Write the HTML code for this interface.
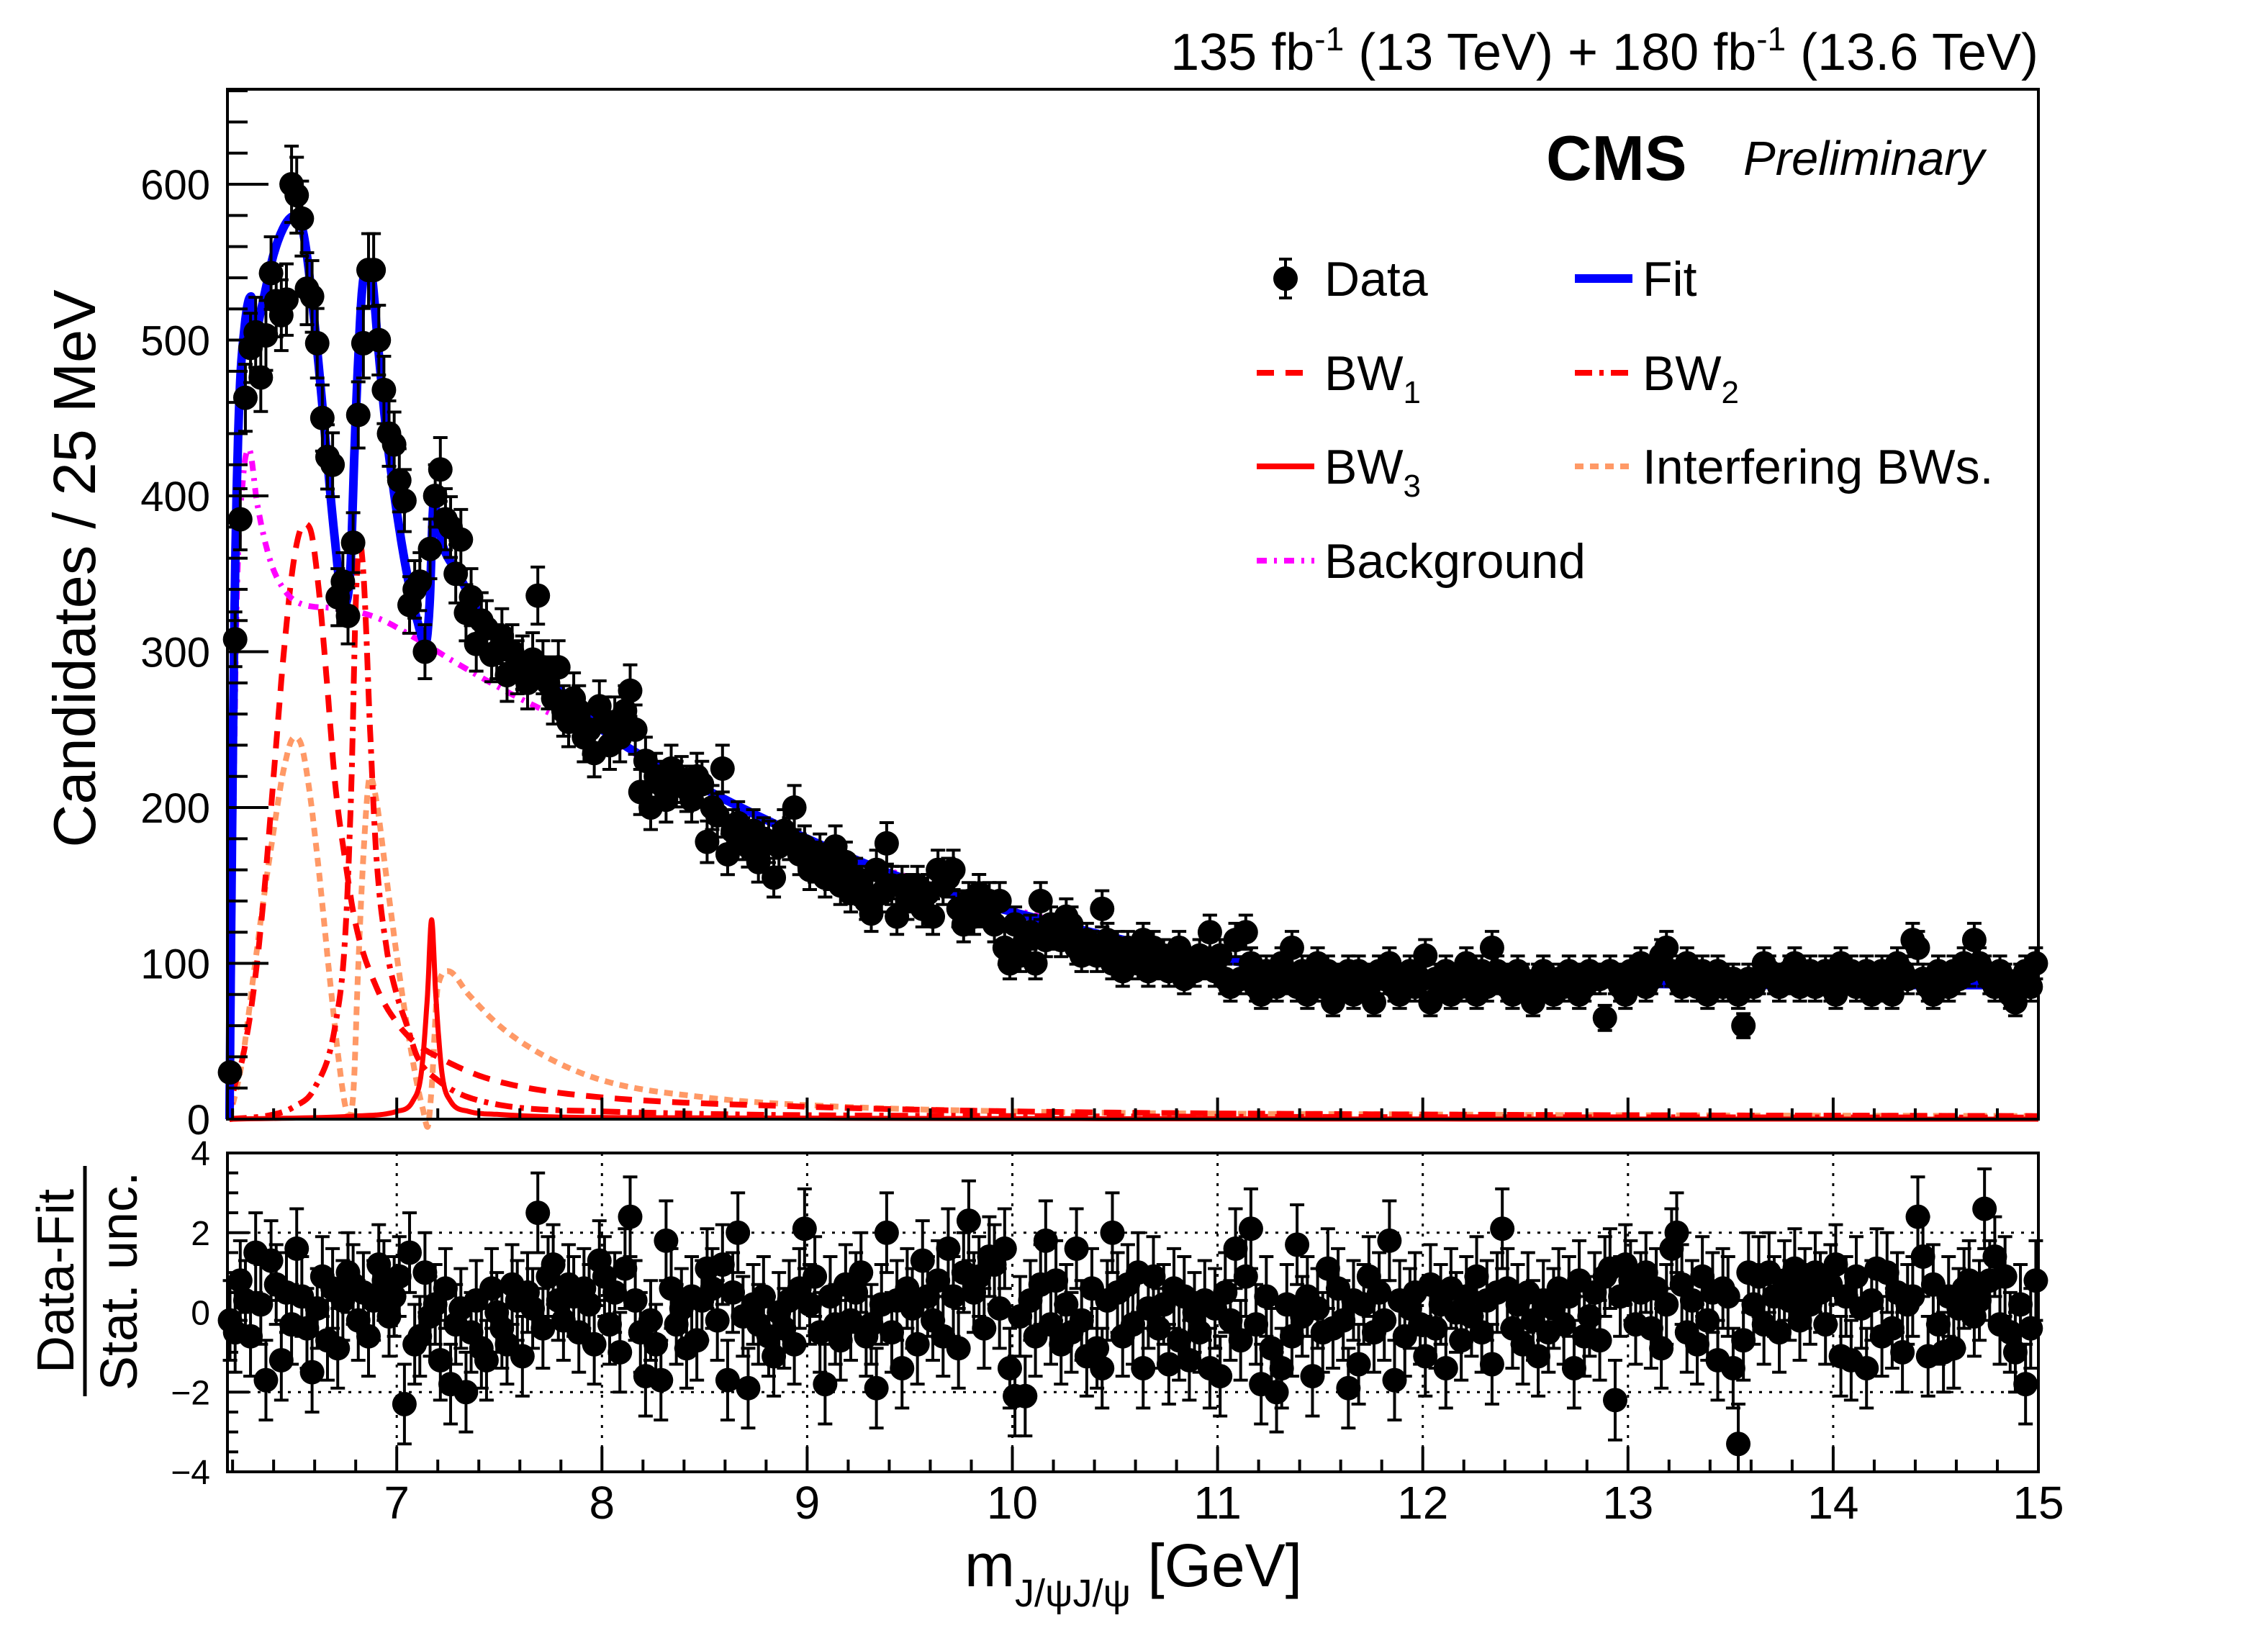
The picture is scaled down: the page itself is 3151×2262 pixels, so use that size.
<!DOCTYPE html>
<html><head><meta charset="utf-8"><title>CMS J/psi J/psi mass spectrum</title>
<style>
html,body{margin:0;padding:0;background:#fff;}
svg{display:block;font-family:"Liberation Sans",Arial,sans-serif;}
</style></head>
<body>
<svg id="chart" xmlns="http://www.w3.org/2000/svg" width="3151" height="2262" viewBox="0 0 3151 2262">
<rect x="0" y="0" width="3151" height="2262" fill="#fff"/>
<g id="main-curves"></g>
<g id="main-data"></g>
<g id="pull-grid"></g>
<g id="pull-data"></g>
<g id="axes"></g>
<rect x="316" y="124" width="2516" height="1431" fill="none" stroke="#000" stroke-width="4"/>
<rect x="316" y="1602" width="2516" height="443" fill="none" stroke="#000" stroke-width="4"/>

<text x="2832" y="97" font-size="72" text-anchor="end">135 fb<tspan dy="-27" font-size="46">-1</tspan><tspan dy="27"> (13 TeV) + 180 fb</tspan><tspan dy="-27" font-size="46">-1</tspan><tspan dy="27"> (13.6 TeV)</tspan></text>
<text x="2148" y="250" font-size="88" font-weight="bold">CMS</text>
<text x="2422" y="243" font-size="67" font-style="italic">Preliminary</text>

<g font-size="68">
 <g>
  <line x1="1786" y1="360" x2="1786" y2="414" stroke="#000" stroke-width="4"/>
  <line x1="1777" y1="360" x2="1795" y2="360" stroke="#000" stroke-width="4"/>
  <line x1="1777" y1="414" x2="1795" y2="414" stroke="#000" stroke-width="4"/>
  <circle cx="1786" cy="387" r="17" fill="#000"/>
  <text x="1840" y="411">Data</text>
 </g>
 <g>
  <line x1="2188" y1="387" x2="2268" y2="387" stroke="#0000ff" stroke-width="12"/>
  <text x="2282" y="411">Fit</text>
 </g>
 <g>
  <line x1="1746" y1="518" x2="1826" y2="518" stroke="#ff0000" stroke-width="8" stroke-dasharray="24,16"/>
  <text x="1840" y="542">BW<tspan dy="18" font-size="44">1</tspan></text>
 </g>
 <g>
  <line x1="2188" y1="518" x2="2268" y2="518" stroke="#ff0000" stroke-width="8" stroke-dasharray="24,10,6,10"/>
  <text x="2282" y="542">BW<tspan dy="18" font-size="44">2</tspan></text>
 </g>
 <g>
  <line x1="1746" y1="648" x2="1826" y2="648" stroke="#ff0000" stroke-width="8"/>
  <text x="1840" y="672">BW<tspan dy="18" font-size="44">3</tspan></text>
 </g>
 <g>
  <line x1="2188" y1="648" x2="2268" y2="648" stroke="#ff9966" stroke-width="8" stroke-dasharray="12,9"/>
  <text x="2282" y="672">Interfering BWs.</text>
 </g>
 <g>
  <line x1="1746" y1="779" x2="1826" y2="779" stroke="#ff00ff" stroke-width="8" stroke-dasharray="14,10,4,10"/>
  <text x="1840" y="803">Background</text>
 </g>
</g>

<text transform="translate(132,790) rotate(-90)" font-size="83" text-anchor="middle">Candidates / 25 MeV</text>
<g transform="translate(118,1780) rotate(-90)" font-size="72" text-anchor="middle">
 <text x="0" y="-16">Data-Fit</text>
 <line x1="-160" y1="0" x2="160" y2="0" stroke="#000" stroke-width="5"/>
 <text x="0" y="72">Stat. unc.</text>
</g>
<text x="1340" y="2204" font-size="84">m<tspan dy="28" font-size="54">J/ψJ/ψ</tspan><tspan dy="-28"> [GeV]</tspan></text>
</svg>
<script>
// ---- data ----
const binStart = 6.1875;
const binWidth = 0.025;
const counts = [
30,308,385,463,495,505,476,503,543,525,
516,526,600,593,578,533,528,498,450,425,
420,335,345,323,370,452,498,545,545,500,
468,440,433,410,397,330,340,345,300,366,
400,417,385,380,350,372,325,335,305,320,
315,298,300,310,285,300,290,293,280,295,
336,290,280,270,290,262,255,270,262,245,
250,235,265,255,240,255,245,262,275,250,
210,230,200,220,215,205,225,215,218,212,
205,220,215,178,200,195,225,170,185,190,
180,175,185,165,180,178,155,175,185,180,
200,170,175,160,165,170,155,160,175,150,
165,145,155,150,140,132,160,145,177,150,
130,150,140,145,150,135,145,130,160,150,
155,160,135,125,140,130,145,135,140,125,
140,110,100,125,105,115,120,100,140,115,
125,120,115,130,125,110,105,115,110,105,
135,115,100,110,95,110,105,100,115,95,
110,100,105,95,100,110,90,100,95,105,
100,120,95,105,90,85,115,90,120,100,
85,80,95,90,85,100,90,110,85,95,
80,90,100,85,95,75,90,85,95,80,
95,90,85,75,95,90,100,85,80,90,
95,85,90,105,75,90,85,95,80,90,
85,100,90,80,95,85,110,95,90,85,
80,95,90,85,75,90,95,85,80,90,
85,95,90,80,85,95,90,90,65,95,
90,85,80,95,90,100,85,90,95,105,
110,95,90,85,100,90,85,95,80,90,
95,85,90,90,80,60,90,85,90,100,
95,90,85,90,95,100,85,90,95,85,
90,95,85,80,100,90,95,85,90,95,
80,85,95,90,80,100,95,90,115,110,
90,85,80,95,90,85,95,90,100,95,
115,100,95,90,85,95,90,80,75,90,
95,85,100];
const pulls = [
-0.2,-0.5,0.8,0.3,-0.6,1.5,0.2,-1.7,1.3,0.7,
-1.2,0.5,-0.3,1.6,0.4,-0.4,-1.5,0.1,0.9,-0.7,
0.6,-0.9,0.3,1.0,0.7,-0.2,0.5,-0.6,0.3,1.2,
0.8,-0.1,0.4,0.9,-2.3,1.5,-0.8,-0.6,1.0,-0.1,
0.2,-1.2,0.6,-1.8,-0.3,0.1,-2.0,-0.5,0.3,-0.9,
-1.2,0.6,0.0,-0.4,-0.8,0.7,0.3,-1.1,0.5,0.1,
2.5,-0.4,0.9,1.2,0.3,-0.2,0.7,0.4,-0.5,0.6,
0.2,-0.8,1.3,0.9,-0.3,0.5,-1.0,1.1,2.4,0.3,
-0.5,-1.6,-0.2,-0.8,-1.7,1.8,0.6,-0.3,0.1,-0.9,
0.4,-0.7,0.3,1.1,0.6,-0.2,1.2,-1.7,0.5,2.0,
-0.1,-1.9,0.2,-0.3,0.4,-0.6,-1.1,0.0,-0.4,0.3,
-0.8,0.6,2.1,0.2,0.9,-0.5,-1.8,0.4,-0.3,-0.7,
0.7,-0.2,0.5,1.0,-0.6,-0.3,-1.9,0.2,2.0,-0.5,
0.3,-1.4,0.6,0.1,-0.8,1.3,0.4,-0.2,0.8,-0.6,
1.6,0.4,-0.9,1.0,2.3,0.5,0.9,-0.4,1.4,1.2,
0.1,1.6,-1.4,-2.1,-0.1,-2.1,0.3,-0.6,0.7,1.8,
-0.3,0.8,-0.8,0.2,-0.5,1.6,-0.2,-1.1,0.6,-0.9,
-1.4,0.3,2.0,0.5,-0.6,0.7,-0.3,1.0,-1.4,0.1,
0.9,-0.4,0.2,-1.3,0.6,-0.7,0.4,-1.2,0.0,-0.5,
0.3,-1.4,0.1,-1.6,0.5,-0.2,1.6,-0.7,0.9,2.1,
-0.3,-1.8,0.4,-0.9,-2.0,-1.4,0.2,-0.6,1.7,-0.1,
0.4,-1.6,0.1,-0.5,1.1,-0.4,0.6,-0.2,-1.9,0.3,
-1.3,0.2,0.9,-0.5,0.5,-0.2,1.8,-1.7,0.3,-0.6,
0.1,0.5,-0.3,-1.1,0.7,-0.4,0.2,-1.4,0.6,0.0,
-0.7,0.4,-0.1,0.9,-0.5,0.3,-1.3,0.5,2.1,0.6,
-0.4,0.2,-0.8,0.5,-0.2,-1.1,0.3,-0.5,0.1,0.6,
-0.3,0.4,-1.4,0.8,-0.6,-0.1,0.5,-0.7,0.9,1.1,
-2.2,0.4,1.2,0.8,-0.3,0.5,1.0,-0.4,0.6,-0.9,
0.2,1.6,2.0,0.7,-0.5,0.3,-0.8,0.9,-0.2,0.5,
-1.2,0.6,0.4,-1.4,-3.3,-0.7,1.0,0.2,0.9,-0.3,
1.0,0.4,-0.5,0.8,0.3,1.1,-0.2,0.6,0.2,1.0,
0.5,-0.3,0.7,1.2,-1.1,0.4,-1.2,0.9,0.1,-1.4,
0.3,1.1,-0.6,1.0,-0.4,0.5,-1.0,0.2,0.4,2.4,
1.4,-1.1,0.7,-0.3,-1.0,0.4,-0.9,0.1,0.6,0.8,
-0.1,0.3,2.6,0.8,1.4,-0.3,0.9,-0.5,-1.0,0.2,
-1.8,-0.4,0.8];
// curve knots (mass in GeV, candidates)
const fitMass = [6.185,6.195,6.21,6.23,6.26,6.29,6.31,6.34,6.40,6.46,6.51,6.55,6.60,6.65,6.70,6.74,6.77,6.80,6.83,6.86,6.88,6.91,6.95,7.00,7.05,7.10,7.14,7.16,7.18,7.22,7.3,7.4,7.6,7.8,8,8.5,9,9.5,10,11,12,13,14,15];
const fitVal = [0,150,330,450,510,528,505,520,555,575,580,565,510,440,370,330,345,450,530,548,540,495,440,390,350,320,305,330,395,370,350,325,295,275,250,212,180,153,133,103,90,87,86,86];
const bgMass = [6.185,6.20,6.22,6.25,6.28,6.32,6.38,6.45,6.55,6.7,6.9,7.1,7.3,7.6,8,8.5,9,9.5,10,10.5,11,11.5,12,13,14,15];
const bgVal = [0,150,330,410,430,395,360,340,330,328,322,308,292,270,245,212,180,155,135,117,103,95,90,87,86,85];
const bw1Mass = [6.185,6.2,6.25,6.3,6.35,6.4,6.45,6.5,6.55,6.58,6.62,6.66,6.7,6.75,6.8,6.9,7.0,7.1,7.2,7.4,7.6,8,9,10,12,15];
const bw1Val = [0,15,40,80,140,220,300,360,382,378,340,280,215,165,125,85,62,48,40,28,21,14,8,5,3,2];
const bw2Mass = [6.185,6.4,6.5,6.6,6.7,6.75,6.78,6.8,6.82,6.84,6.87,6.9,6.95,7.0,7.05,7.1,7.2,7.4,8,10,15];
const bw2Val = [0,3,8,20,60,120,220,330,370,345,250,170,110,80,60,40,25,12,5,2,1];
const bw3Mass = [6.185,6.8,7.0,7.08,7.12,7.15,7.17,7.19,7.22,7.26,7.35,7.5,8,15];
const bw3Val = [0,2,5,12,30,80,128,80,30,12,5,3,1,0];
const intMass = [6.185,6.25,6.3,6.35,6.4,6.45,6.5,6.53,6.57,6.62,6.67,6.72,6.75,6.77,6.79,6.81,6.84,6.87,6.9,6.95,7.0,7.05,7.1,7.13,7.15,7.17,7.2,7.25,7.35,7.5,7.7,8,8.5,9,10,12,15];
const intVal = [0,40,90,140,185,225,245,242,215,160,95,35,8,2,20,90,175,220,205,155,105,60,22,5,-5,20,85,95,80,60,42,25,14,9,5,3,2];
const yTicksMain = [0,100,200,300,400,500,600];
const yTicksPull = [-4,-2,0,2,4];
const xTicks = [7,8,9,10,11,12,13,14,15];

// ---- axes ----
const NS = "http://www.w3.org/2000/svg";
const L = 316, R = 2832, T1 = 124, B1 = 1555, T2 = 1602, B2 = 2045;
const XMIN = 6.175, XMAX = 15, YMAX = 661;
const sx = m => L + (m - XMIN) / (XMAX - XMIN) * (R - L);
const sy = v => B1 - v / YMAX * (B1 - T1);
const sp = p => (T2 + B2) / 2 - p / 8 * (B2 - T2);

function mk(tag, attrs, parent) {
  const e = document.createElementNS(NS, tag);
  for (const k in attrs) e.setAttribute(k, attrs[k]);
  parent.appendChild(e);
  return e;
}
function monotonePath(xs, ys, fx, fy) {
  const n = xs.length, d = [], m = [];
  for (let i = 0; i < n - 1; i++) d.push((ys[i + 1] - ys[i]) / (xs[i + 1] - xs[i]));
  m.push(d[0]);
  for (let i = 1; i < n - 1; i++) m.push(d[i - 1] * d[i] <= 0 ? 0 : (d[i - 1] + d[i]) / 2);
  m.push(d[n - 2]);
  for (let i = 0; i < n - 1; i++) {
    if (d[i] === 0) { m[i] = 0; m[i + 1] = 0; continue; }
    const a = m[i] / d[i], b = m[i + 1] / d[i], s = a * a + b * b;
    if (s > 9) { const t = 3 / Math.sqrt(s); m[i] = t * a * d[i]; m[i + 1] = t * b * d[i]; }
  }
  let p = "M" + fx(xs[0]).toFixed(1) + "," + fy(ys[0]).toFixed(1);
  for (let i = 0; i < n - 1; i++) {
    const h = xs[i + 1] - xs[i];
    const steps = 12;
    for (let k = 1; k <= steps; k++) {
      const t = k / steps, t2 = t * t, t3 = t2 * t;
      const y = (2 * t3 - 3 * t2 + 1) * ys[i] + (t3 - 2 * t2 + t) * h * m[i] + (-2 * t3 + 3 * t2) * ys[i + 1] + (t3 - t2) * h * m[i + 1];
      p += "L" + fx(xs[i] + t * h).toFixed(1) + "," + fy(y).toFixed(1);
    }
  }
  return p;
}

// curves
const gc = document.getElementById("main-curves");
const curves = [
  ["curve-interfering-bws", intMass, intVal, "#ff9966", 8, "12,9"],
  ["curve-bw1", bw1Mass, bw1Val, "#ff0000", 8, "24,16"],
  ["curve-bw2", bw2Mass, bw2Val, "#ff0000", 8, "24,10,6,10"],
  ["curve-bw3", bw3Mass, bw3Val, "#ff0000", 7, "none"],
  ["curve-background", bgMass, bgVal, "#ff00ff", 8, "14,10,4,10"],
  ["curve-fit", fitMass, fitVal, "#0000ff", 12, "none"]
];
curves.forEach(c => {
  const p = mk("path", {d: monotonePath(c[1], c[2], sx, sy), fill: "none", stroke: c[3], "stroke-width": c[4], "stroke-dasharray": c[5], "stroke-linejoin": "round"}, gc);
  
  
});

// main data points
const gd = document.getElementById("main-data");
counts.forEach((n, i) => {
  const m = binStart + i * binWidth, x = sx(m), e = Math.sqrt(n);
  const g = mk("g", {}, gd);
  
  
  const y1 = sy(n + e), y2 = Math.min(sy(Math.max(n - e, 0)), B1);
  mk("line", {x1: x, y1: y1, x2: x, y2: y2, stroke: "#000", "stroke-width": 4}, g);
  mk("line", {x1: x - 10, y1: y1, x2: x + 10, y2: y1, stroke: "#000", "stroke-width": 4}, g);
  mk("line", {x1: x - 10, y1: y2, x2: x + 10, y2: y2, stroke: "#000", "stroke-width": 4}, g);
  mk("circle", {cx: x, cy: sy(n), r: 17, fill: "#000"}, g);
});

// pull grid
const gg = document.getElementById("pull-grid");
xTicks.slice(0, -1).forEach(t => {
  const l = mk("line", {x1: sx(t), y1: T2, x2: sx(t), y2: B2, stroke: "#000", "stroke-width": 3, "stroke-dasharray": "4,10"}, gg);
  
  
});
[-2, 2].forEach(t => {
  const l = mk("line", {x1: L, y1: sp(t), x2: R, y2: sp(t), stroke: "#000", "stroke-width": 3, "stroke-dasharray": "4,10"}, gg);
  
  
});

// pull points
const gp = document.getElementById("pull-data");
pulls.forEach((p, i) => {
  const m = binStart + i * binWidth, x = sx(m);
  const g = mk("g", {}, gp);
  
  
  const y1 = Math.max(sp(p + 1), T2), y2 = Math.min(sp(p - 1), B2);
  mk("line", {x1: x, y1: y1, x2: x, y2: y2, stroke: "#000", "stroke-width": 4}, g);
  mk("line", {x1: x - 10, y1: y1, x2: x + 10, y2: y1, stroke: "#000", "stroke-width": 4}, g);
  mk("line", {x1: x - 10, y1: y2, x2: x + 10, y2: y2, stroke: "#000", "stroke-width": 4}, g);
  mk("circle", {cx: x, cy: sp(p), r: 17, fill: "#000"}, g);
});

// axes ticks & labels
const ga = document.getElementById("axes");
for (let v = 0; v <= 660; v += 20) {
  const major = v % 100 === 0;
  const t = mk("line", {x1: L, y1: sy(v), x2: L + (major ? 57 : 28), y2: sy(v), stroke: "#000", "stroke-width": 4}, ga);
  
  
}
yTicksMain.forEach(v => {
  const t = mk("text", {x: 292, y: sy(v) + 21, "font-size": 58, "text-anchor": "end"}, ga);
  t.textContent = v;
  
  
});
for (let k = 0; ; k++) {
  const m = 6.2 + k * 0.2;
  if (m > 15.001) break;
  const major = Math.abs(m - Math.round(m)) < 1e-6;
  const t1 = mk("line", {x1: sx(m), y1: B1, x2: sx(m), y2: B1 - (major ? 30 : 15), stroke: "#000", "stroke-width": 4}, ga);
  
  
  const t2 = mk("line", {x1: sx(m), y1: B2, x2: sx(m), y2: B2 - (major ? 35 : 17), stroke: "#000", "stroke-width": 4}, ga);
  
  
}
xTicks.forEach(v => {
  const t = mk("text", {x: sx(v), y: 2110, "font-size": 64, "text-anchor": "middle"}, ga);
  t.textContent = v;
  
  
});
for (let v = -4; v <= 4.001; v += 0.5) {
  const major = Math.abs(v % 2) < 1e-6;
  const t = mk("line", {x1: L, y1: sp(v), x2: L + (major ? 30 : 15), y2: sp(v), stroke: "#000", "stroke-width": 4}, ga);
  
  
}
yTicksPull.forEach(v => {
  const t = mk("text", {x: 292, y: sp(v) + 17, "font-size": 48, "text-anchor": "end"}, ga);
  t.textContent = v < 0 ? "\u2212" + Math.abs(v) : v;
  
  
});
</script>
</body></html>
